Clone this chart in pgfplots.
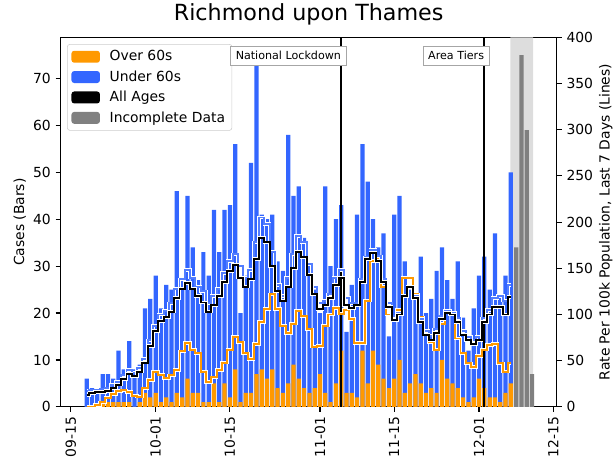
\documentclass[border=0pt]{standalone}
\usepackage{pgfplots}
\pgfplotsset{compat=1.18}
\usepackage{pgfplotstable}
\usepackage{fontspec}
\setmainfont{DejaVu Sans}

\definecolor{over}{RGB}{255,153,0}
\definecolor{under}{RGB}{51,102,255}
\definecolor{incomplete}{RGB}{128,128,128}
\definecolor{shade}{RGB}{221,221,221}

% day 0 = 09-15
\pgfplotstableread{
day total over
3 6 0
4 4 0
5 3 0
6 7 1
7 7 1
8 6 1
9 12 1
10 8 1
11 14 1
12 8 0
13 9 1
14 21 3
15 23 2
16 28 3
17 21 1
18 26 2
19 25 1
20 46 3
21 27 2
22 45 6
23 34 3
24 27 3
25 33 1
26 28 1
27 42 5
28 33 1
29 42 5
30 43 2
31 56 8
32 20 1
33 28 3
34 52 3
35 73 7
36 41 8
37 40 6
38 41 8
39 31 4
40 29 3
41 58 5
42 45 9
43 47 6
44 36 4
45 30 3
46 25 4
47 20 7
48 47 3
49 30 1
50 40 5
51 43 12
52 16 3
53 26 3
54 41 2
55 56 12
56 48 5
57 40 12
58 34 9
59 37 6
60 15 4
61 41 6
62 45 10
63 31 3
64 25 5
65 23 7
66 32 5
67 20 3
68 23 4
69 29 3
70 34 10
71 27 6
72 23 5
73 31 4
74 19 2
75 12 1
76 21 2
77 28 6
78 32 4
79 25 2
80 37 2
81 24 1
82 28 3
83 50 5
}\cases

\pgfplotstableread{
day total
84 34
85 75
86 59
87 7
}\incomplete

\pgfplotstableread{
day all under over
3 13 17 0
4 15 18 0
5 16 18 2
6 16 19 5
7 17 20 10
8 20 24 14
9 24 27 17
10 30 34 18
11 36 40 16
12 33 37 12
13 38 42 11
14 48 52 20
15 66 72 29
16 82 88 38
17 93 100 35
18 97 104 31
19 103 112 34
20 118 128 40
21 128 138 60
22 134 148 69
23 128 140 62
24 120 130 58
25 113 125 38
26 103 112 27
27 110 120 32
28 120 128 40
29 135 145 48
30 147 158 62
31 154 165 76
32 140 152 70
33 130 140 58
34 138 148 52
35 160 178 68
36 183 205 92
37 178 198 106
38 152 168 122
39 125 132 106
40 115 120 88
41 130 140 80
42 150 165 90
43 168 185 104
44 162 178 98
45 143 155 84
46 122 130 65
47 106 112 66
48 110 115 88
49 118 122 100
50 132 140 107
51 140 148 101
52 110 118 105
53 107 112 95
54 110 112 69
55 135 138 69
56 160 162 115
57 167 170 158
58 158 163 160
59 135 138 130
60 108 112 100
61 94 98 94
62 100 102 105
63 120 120 140
64 130 130 140
65 118 120 122
66 92 95 97
67 78 82 79
68 72 77 70
69 80 84 62
70 95 98 90
71 102 104 103
72 100 102 100
73 92 96 74
74 78 82 58
75 72 76 47
76 68 72 43
77 72 76 55
78 92 96 62
79 100 105 67
80 108 118 68
81 108 120 47
82 100 115 38
83 119 132 47
}\rates

\pgfplotsset{
  patch legend/.style={legend image code/.code={\fill[##1, draw=none] (0pt,-4.3pt) rectangle (20.5pt,4.3pt);}},
  common/.style={
    scale only axis, width=357.2pt, height=266.0pt,
    xmin=-1.94, xmax=91.66,
    tick align=outside, major tick length=3.5pt,
    every tick/.style={black, line width=0.8pt},
    axis line style={line width=0.8pt},
    tick label style={font=\fontsize{10}{12}\selectfont},
    label style={font=\fontsize{10}{12}\selectfont},
    /pgf/number format/assume math mode=true,
  },
  rate line/.style={line width=1.4pt, const plot mark mid},
  halo/.style={white, line width=2.4pt, const plot mark mid},
}

\begin{document}
\begin{tikzpicture}
\begin{axis}[common,
  name=main,
  ymin=0, ymax=78.76,
  xtick={0,16,30,47,61,77,91},
  xticklabels={09-15,10-01,10-15,11-01,11-15,12-01,12-15},
  xticklabel style={rotate=90, anchor=east},
  xtick pos=bottom, ytick pos=left,
  ytick={0,10,...,70},
  ylabel={Cases (Bars)},
  ylabel style={at={(axis description cs:-0.082,0.5)}, anchor=center},
  title={Richmond upon Thames},
  title style={at={(axis description cs:0.5,1)}, anchor=base, yshift=6.5pt, font=\fontsize{16}{19}\selectfont},
  legend cell align=left,
  legend style={at={(axis description cs:0.013,0.982)}, anchor=north west,
    draw=black!20, rounded corners=2pt, fill=white,
    font=\fontsize{10}{12}\selectfont, row sep=1.6pt, column sep=5pt, inner xsep=3pt, inner ysep=2.5pt},
]
\addplot[fill=shade, draw=none, forget plot] coordinates {(82.9,0) (82.9,78.76) (87.2,78.76) (87.2,0)} \closedcycle;
\addplot[ybar, bar width=0.8, bar shift=0pt, fill=under, draw=none, forget plot] table[x=day, y=total] {\cases};
\addplot[ybar, bar width=0.8, bar shift=0pt, fill=over, draw=none, forget plot] table[x=day, y=over] {\cases};
\addplot[ybar, bar width=0.8, bar shift=0pt, fill=incomplete, draw=none, forget plot] table[x=day, y=total] {\incomplete};
\addplot[black, line width=1.5pt, forget plot] coordinates {(51,0) (51,78.76)};
\addplot[black, line width=1.5pt, forget plot] coordinates {(78,0) (78,78.76)};
\addlegendimage{patch legend, fill=over}
\addlegendentry{Over 60s}
\addlegendimage{patch legend, fill=under}
\addlegendentry{Under 60s}
\addlegendimage{patch legend, fill=black}
\addlegendentry{All Ages}
\addlegendimage{patch legend, fill=incomplete}
\addlegendentry{Incomplete Data}
\end{axis}

\begin{axis}[common,
  ymin=0, ymax=400,
  hide x axis,
  axis y line*=right,
  ytick={0,50,...,400},
  ylabel={Rate Per 100k Population, Last 7 Days (Lines)},
  ylabel style={at={(axis description cs:1.099,0.5)}, anchor=center},
]
\addplot[halo] table[x=day, y=over] {\rates};
\addplot[over, rate line] table[x=day, y=over] {\rates};
\addplot[halo] table[x=day, y=under] {\rates};
\addplot[under!85!white, rate line] table[x=day, y=under] {\rates};
\addplot[halo] table[x=day, y=all] {\rates};
\addplot[black, rate line] table[x=day, y=all] {\rates};
\node[anchor=east, xshift=3.6pt, draw=black!35, fill=white, inner xsep=3.6pt, inner ysep=4pt,
  font=\fontsize{8}{9.6}\selectfont] at (axis cs:51,380) {National Lockdown};
\node[anchor=east, xshift=3.6pt, draw=black!35, fill=white, inner xsep=3.6pt, inner ysep=4pt,
  font=\fontsize{8}{9.6}\selectfont] at (axis cs:78,380) {Area Tiers};
\end{axis}
\pgfresetboundingbox
\path[use as bounding box] ([shift={(-43.6pt,-37.7pt)}]main.south west) rectangle ([shift={(40.5pt,26.9pt)}]main.north east);
\end{tikzpicture}
\end{document}
